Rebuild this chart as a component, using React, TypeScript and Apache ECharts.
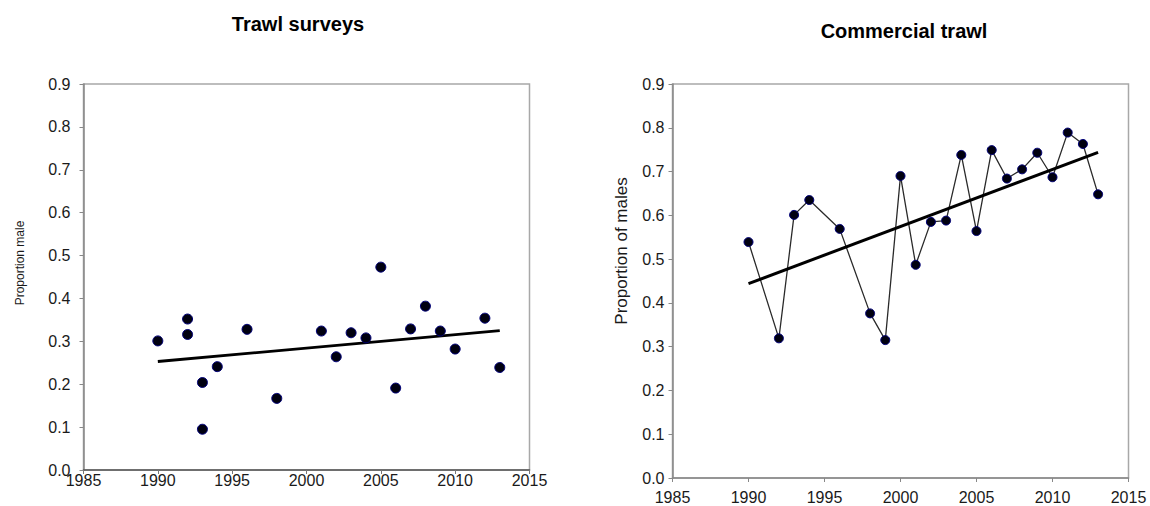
import React, { useEffect, useRef } from "react";
import * as echarts from "echarts";

// Trawl survey samples: proportion of males per year
const surveyYears = [1990, 1992, 1992, 1993, 1993, 1994, 1996, 1998, 2001, 2002, 2003, 2004, 2005, 2006, 2007, 2008, 2009, 2010, 2012, 2013];
const surveyMale = [0.301, 0.352, 0.316, 0.204, 0.095, 0.241, 0.328, 0.167, 0.324, 0.264, 0.32, 0.308, 0.473, 0.191, 0.329, 0.382, 0.324, 0.282, 0.354, 0.239];

// Commercial trawl samples: proportion of males per year
const commercialYears = [1990, 1992, 1993, 1994, 1996, 1998, 1999, 2000, 2001, 2002, 2003, 2004, 2005, 2006, 2007, 2008, 2009, 2010, 2011, 2012, 2013];
const commercialMale = [0.539, 0.319, 0.601, 0.635, 0.569, 0.376, 0.315, 0.69, 0.487, 0.585, 0.588, 0.738, 0.564, 0.749, 0.684, 0.705, 0.743, 0.687, 0.789, 0.763, 0.648];

// Linear trend end points
const trendYears = [1990, 2013];
const surveyTrend = [0.253, 0.325];
const commercialTrend = [0.444, 0.744];

// Axis ranges / ticks
const yearMin = 1985;
const yearMax = 2015;
const yearStep = 5;
const propMin = 0;
const propMax = 0.9;
const propStep = 0.1;

const titles = ["Trawl surveys", "Commercial trawl"];
const yNames = ["Proportion male", "Proportion of males"];

const FONT = "'Liberation Sans', Arial, sans-serif";

const pairs = (xs: number[], ys: number[]) => xs.map((x, i) => [x, ys[i]]);

export default function App() {
  const ref = useRef<HTMLDivElement>(null);

  useEffect(() => {
    if (!ref.current) return;
    const chart = echarts.init(ref.current, undefined, { renderer: "svg" });

    const xAxisBase = (axisColor: string, labelMargin: number, tickColor: string) => ({
      type: "value" as const,
      min: yearMin,
      max: yearMax,
      interval: yearStep,
      axisLine: { show: true, onZero: false, lineStyle: { color: axisColor, width: 1.5 } },
      axisTick: { show: true, inside: false, length: 4, lineStyle: { color: tickColor } },
      axisLabel: {
        margin: labelMargin,
        color: "#1a1a1a",
        fontSize: 16,
        fontFamily: FONT,
        formatter: (v: number) => String(v),
      },
      splitLine: { show: false },
    });

    const yAxisBase = (axisColor: string, labelMargin: number) => ({
      type: "value" as const,
      min: propMin,
      max: propMax,
      interval: propStep,
      axisLine: { show: true, onZero: false, lineStyle: { color: axisColor, width: 1.5 } },
      axisTick: { show: true, inside: false, length: 4, lineStyle: { color: "#888" } },
      axisLabel: {
        margin: labelMargin,
        color: "#1a1a1a",
        fontSize: 16,
        fontFamily: FONT,
        formatter: (v: number) => v.toFixed(1),
      },
      splitLine: { show: false },
    });

    const dotStyle = { color: "#000010", borderColor: "#00007a", borderWidth: 1, opacity: 1 };

    chart.setOption({
      animation: false,
      backgroundColor: "#ffffff",
      grid: [
        { left: 83.5, top: 84, width: 446, height: 386, show: true, borderColor: "#a8a8a8", borderWidth: 1.5, backgroundColor: "transparent" },
        { left: 672.5, top: 84, width: 456, height: 394, show: true, borderColor: "#a8a8a8", borderWidth: 1.5, backgroundColor: "transparent" },
      ],
      xAxis: [
        { ...xAxisBase("#555", 2, "#777"), gridIndex: 0 },
        { ...xAxisBase("#888", 11, "#888"), gridIndex: 1 },
      ],
      yAxis: [
        { ...yAxisBase("#888", 13), gridIndex: 0 },
        { ...yAxisBase("#888", 8), gridIndex: 1 },
      ],
      graphic: [
        {
          type: "text",
          x: 298,
          y: 24,
          style: { text: titles[0], align: "center", verticalAlign: "middle", fontSize: 20, fontWeight: "bold", fontFamily: FONT, fill: "#000" },
        },
        {
          type: "text",
          x: 904,
          y: 31,
          style: { text: titles[1], align: "center", verticalAlign: "middle", fontSize: 20, fontWeight: "bold", fontFamily: FONT, fill: "#000" },
        },
        {
          type: "text",
          x: 20,
          y: 263,
          rotation: Math.PI / 2,
          style: { text: yNames[0], align: "center", verticalAlign: "middle", fontSize: 12, fontFamily: FONT, fill: "#1a1a1a" },
        },
        {
          type: "text",
          x: 621,
          y: 251,
          rotation: Math.PI / 2,
          style: { text: yNames[1], align: "center", verticalAlign: "middle", fontSize: 17, fontFamily: FONT, fill: "#1a1a1a" },
        },
      ],
      series: [
        {
          name: "Survey trend",
          type: "line",
          xAxisIndex: 0,
          yAxisIndex: 0,
          data: pairs(trendYears, surveyTrend),
          showSymbol: false,
          symbol: "none",
          lineStyle: { color: "#000", width: 2.8 },
          z: 2,
        },
        {
          name: "Trawl surveys",
          type: "scatter",
          xAxisIndex: 0,
          yAxisIndex: 0,
          data: pairs(surveyYears, surveyMale),
          symbol: "circle",
          symbolSize: 10,
          itemStyle: dotStyle,
          z: 3,
        },
        {
          name: "Commercial series",
          type: "line",
          xAxisIndex: 1,
          yAxisIndex: 1,
          data: pairs(commercialYears, commercialMale),
          showSymbol: false,
          symbol: "none",
          lineStyle: { color: "#2a2a2a", width: 1.3 },
          z: 2,
        },
        {
          name: "Commercial trend",
          type: "line",
          xAxisIndex: 1,
          yAxisIndex: 1,
          data: pairs(trendYears, commercialTrend),
          showSymbol: false,
          symbol: "none",
          lineStyle: { color: "#000", width: 3 },
          z: 3,
        },
        {
          name: "Commercial trawl",
          type: "scatter",
          xAxisIndex: 1,
          yAxisIndex: 1,
          data: pairs(commercialYears, commercialMale),
          symbol: "circle",
          symbolSize: 9,
          itemStyle: dotStyle,
          z: 4,
        },
      ],
    });

    return () => chart.dispose();
  }, []);

  return (
    <div
      ref={ref}
      style={{ position: "fixed", left: 0, top: 0, width: 1150, height: 506, background: "#fff" }}
    />
  );
}
